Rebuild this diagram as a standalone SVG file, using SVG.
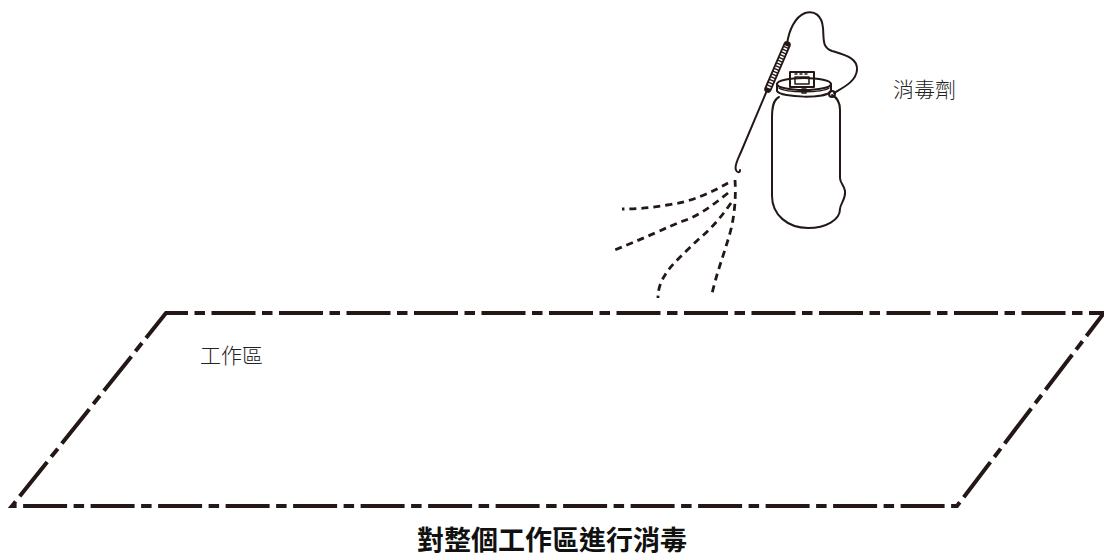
<svg xmlns="http://www.w3.org/2000/svg" width="1104" height="557" viewBox="0 0 1104 557">
  <style>
    .frame { fill: none; stroke: #231815; stroke-width: 4; stroke-dasharray: 44 6.5 10.5 6.5; stroke-dashoffset: 22; stroke-linejoin: miter; }
    .spray { fill: none; stroke: #231815; stroke-width: 2.8; stroke-dasharray: 7 5; stroke-linecap: butt; }
    .ink { fill: none; stroke: #231815; stroke-width: 2; stroke-linecap: round; stroke-linejoin: round; }
    .thin { fill: none; stroke: #231815; stroke-width: 1.5; stroke-linecap: round; stroke-linejoin: round; }
    .label { font-family: "Noto Sans CJK TC", "Noto Sans CJK SC", sans-serif; font-weight: 300; font-size: 21px; fill: #222; }
    .title { font-family: "Noto Sans CJK TC", "Noto Sans CJK SC", sans-serif; font-weight: 700; font-size: 27px; fill: #111; }
  </style>
  <rect width="1104" height="557" fill="#fff"/>

  <!-- work area outline -->
  <g id="work-area">
    <path class="frame" d="M166,313 L1104,313 L957,506 L12,506 Z"/>
    <text class="label" x="200" y="363">工作區</text>
  </g>

  <!-- spray jets -->
  <g id="spray">
    <path class="spray" d="M728,183 C712,192 692,202 667,205 C650,208 636,209 622,209"/>
    <path class="spray" d="M728,193 C712,206 698,216 683,221 C665,228 650,236 612,251"/>
    <path class="spray" d="M731,203 C722,216 712,228 700,238 C685,252 670,266 665,275 C660,283 658,290 658,298"/>
    <path class="spray" d="M735,180 C736,195 735,215 730,233 C724,254 718,270 715,282 C713,289 712,293 712,296"/>
  </g>

  <!-- sprayer -->
  <g id="sprayer">
    <!-- hose -->
    <path class="ink" d="M787,44 C789,30 795,17 805,13 C815,10 822,16 823,28 C824,40 822,47 832,51 C845,55 858,58 857,70 C856,82 842,88 834,93"/>
    <!-- lance -->
    <path class="ink" d="M768,88 L741,152 C738,159 734,166 736,170 C737,173 740,173 740,170"/>
    <!-- grip -->
    <line x1="768" y1="89" x2="787" y2="45" stroke="#231815" stroke-width="7.5" stroke-linecap="round"/>
    <line x1="768.5" y1="88" x2="786.5" y2="46" stroke="#fff" stroke-width="3.8" stroke-dasharray="1.6 1.4"/>
    <!-- tank body -->
    <path class="ink" d="M779,97 C773,100 772,108 772,118 L772,196 C772,215 788,228 808,228 C826,228 840,220 840,209 C840,204 846,199 845,191 C844,185 840,183 840,178 L840,110 C840,101 836,97 832,95"/>
    <!-- cap ring -->
    <ellipse class="ink" cx="804" cy="84" rx="27" ry="6"/>
    <path class="ink" d="M777,84 L777,91 C781,98 827,99 831,91 L831,84"/>
    <path class="thin" d="M779,88 C786,93 822,93 829,88"/>
    <!-- cap handle -->
    <rect class="ink" x="790" y="72" width="24" height="15" fill="#fff"/>
    <rect class="thin" x="795" y="77" width="14" height="7"/>
    <path class="thin" d="M795,74 L797,74 M800,74 L802,74 M805,74 L807,74"/>
    <rect class="thin" x="802" y="89" width="4" height="4"/>
    <!-- hose coupling -->
    <circle class="ink" cx="832" cy="94" r="3" fill="#fff"/>
  </g>

  <text class="title" x="552" y="550" text-anchor="middle">對整個工作區進行消毒</text>
  <text class="label" x="893" y="97">消毒劑</text>
</svg>
